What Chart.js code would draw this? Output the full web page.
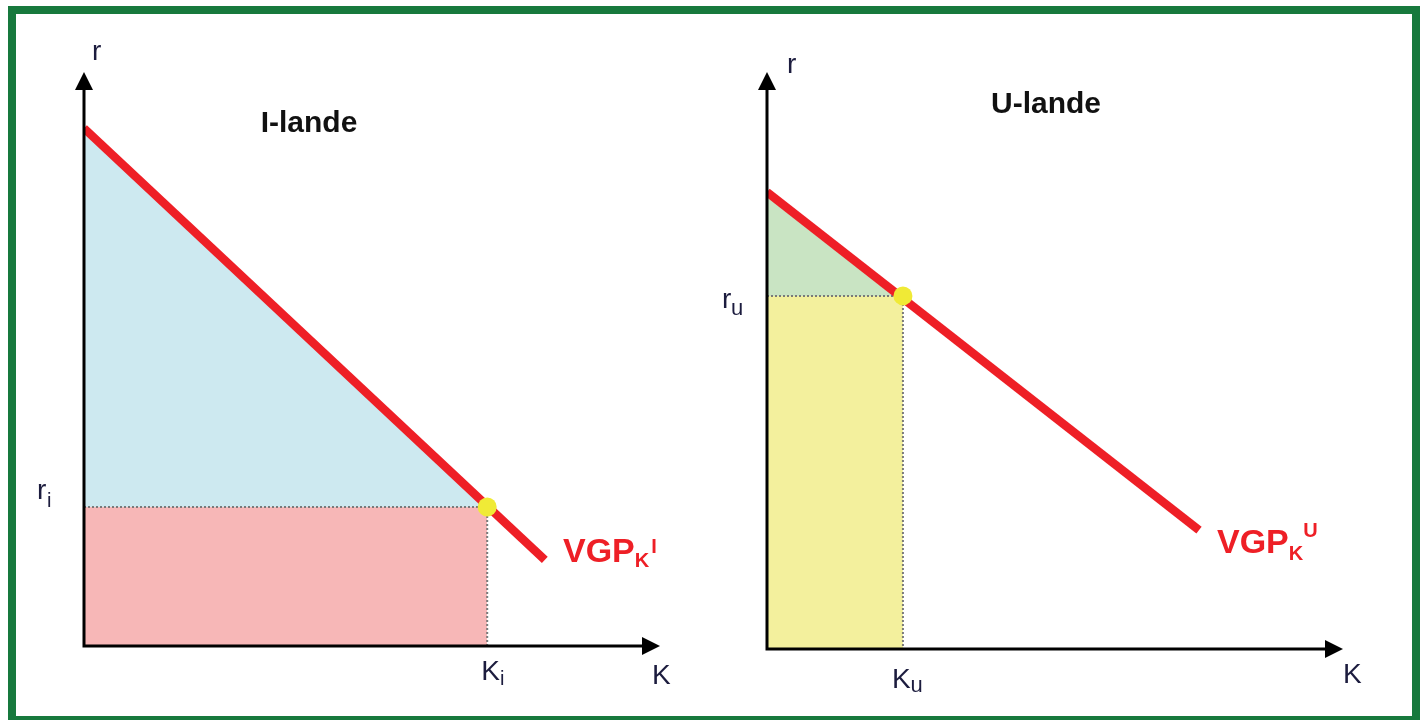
<!DOCTYPE html>
<html>
<head>
<meta charset="utf-8">
<script src="https://cdn.jsdelivr.net/npm/chart.js@4/dist/chart.umd.min.js"></script>
<style>
  html, body { margin: 0; padding: 0; background: #fff; }
  body { width: 1422px; height: 720px; position: relative; overflow: hidden; }
  canvas { position: absolute; left: 0; top: 0; }
  .frame {
    position: absolute; left: 8px; top: 6px; width: 1396px; height: 702px;
    border: 8px solid #17793d;
  }
</style>
</head>
<body>
<div class="frame"></div>
<canvas id="left" width="1422" height="720"></canvas>
<canvas id="right" width="1422" height="720"></canvas>
<script>
// ── Data (K on x, r on y, both 0..100) ─────────────────────
const axisRange = [0, 100];

// I-lande
const vgpI_K = [0, 80];
const vgpI_r = [90.2, 15.0];
const K_i = 70;
const r_i = 24.2;

// U-lande
const vgpU_K = [0, 75];
const vgpU_r = [79.2, 20.6];
const K_u = 23.6;
const r_u = 61.2;

// ── Colours ────────────────────────────────────────────────
const RED = '#ee1f26';
const DOT = '#f0ea36';
const INK = '#1c1c3e';
const FONT = '"Liberation Sans", Arial, sans-serif';

const pts = (xs, ys) => xs.map((x, i) => ({ x, y: ys[i] }));

function text(ctx, str, x, y, size, color, bold, align) {
  ctx.font = (bold ? 'bold ' : '') + size + 'px ' + FONT;
  ctx.fillStyle = color;
  ctx.textAlign = align || 'left';
  ctx.textBaseline = 'alphabetic';
  ctx.fillText(str, x, y);
  return ctx.measureText(str).width;
}

// axis arrows drawn from the scales
const axesPlugin = {
  id: 'axes',
  afterDatasetsDraw(chart) {
    const { ctx, chartArea, scales } = chart;
    const x0 = scales.x.getPixelForValue(0);
    const y0 = scales.y.getPixelForValue(0);
    const len = 18, half = 9;
    ctx.save();
    ctx.strokeStyle = '#000';
    ctx.fillStyle = '#000';
    ctx.lineWidth = 3;
    ctx.beginPath();
    ctx.moveTo(x0, y0 + 1.5);
    ctx.lineTo(x0, chartArea.top + len - 2);
    ctx.moveTo(x0 - 1.5, y0);
    ctx.lineTo(chartArea.right - len + 2, y0);
    ctx.stroke();
    ctx.beginPath();
    ctx.moveTo(x0, chartArea.top);
    ctx.lineTo(x0 - half, chartArea.top + len);
    ctx.lineTo(x0 + half, chartArea.top + len);
    ctx.closePath();
    ctx.fill();
    ctx.beginPath();
    ctx.moveTo(chartArea.right, y0);
    ctx.lineTo(chartArea.right - len, y0 - half);
    ctx.lineTo(chartArea.right - len, y0 + half);
    ctx.closePath();
    ctx.fill();
    ctx.restore();
  }
};

function makePanel(id, cfg) {
  const labelsPlugin = {
    id: 'labels',
    afterDraw(chart) {
      const { ctx, scales } = chart;
      const xp = scales.x.getPixelForValue(cfg.K);
      const yp = scales.y.getPixelForValue(cfg.r);
      ctx.save();
      cfg.drawLabels(ctx, xp, yp);
      ctx.restore();
    }
  };

  new Chart(document.getElementById(id), {
    type: 'line',
    data: {
      datasets: [
        { // equilibrium point
          data: [{ x: cfg.K, y: cfg.r }],
          showLine: false, pointRadius: 9.5, pointHoverRadius: 9.5,
          pointBackgroundColor: DOT, pointBorderWidth: 0
        },
        { // VGP line
          data: pts(cfg.lineK, cfg.lineR),
          borderColor: RED, borderWidth: 8.5, borderCapStyle: 'butt',
          pointRadius: 0, fill: false
        },
        { // dotted guides
          data: [{ x: 0, y: cfg.r }, { x: cfg.K, y: cfg.r }, { x: cfg.K, y: 0 }],
          borderColor: '#7a7a7a', borderWidth: 2, borderDash: [2, 2],
          pointRadius: 0, fill: false
        },
        { // triangle above r
          data: [{ x: 0, y: cfg.lineR[0] }, { x: cfg.K, y: cfg.r }],
          borderWidth: 0, pointRadius: 0,
          fill: { value: cfg.r }, backgroundColor: cfg.topFill
        },
        { // rectangle below r
          data: [{ x: 0, y: cfg.r }, { x: cfg.K, y: cfg.r }],
          borderWidth: 0, pointRadius: 0,
          fill: 'origin', backgroundColor: cfg.bottomFill
        }
      ]
    },
    options: {
      responsive: false,
      animation: false,
      devicePixelRatio: 1,
      layout: { padding: cfg.padding },
      plugins: { legend: { display: false }, tooltip: { enabled: false } },
      elements: { line: { tension: 0 } },
      scales: {
        x: { type: 'linear', min: axisRange[0], max: axisRange[1], display: false },
        y: { type: 'linear', min: axisRange[0], max: axisRange[1], display: false }
      }
    },
    plugins: [axesPlugin, labelsPlugin]
  });
}

// ── I-lande ────────────────────────────────────────────────
makePanel('left', {
  lineK: vgpI_K, lineR: vgpI_r, K: K_i, r: r_i,
  topFill: '#cde9f0', bottomFill: '#f7b7b7',
  padding: { left: 84, right: 762, top: 72, bottom: 74 },
  drawLabels(ctx, xp, yp) {
    text(ctx, 'I-lande', 309, 132, 30, '#111', true, 'center');
    text(ctx, 'r', 92, 60, 28, INK);
    text(ctx, 'r', 37, yp - 8, 28, INK);
    text(ctx, 'i', 47, yp, 20, INK);
    const w = text(ctx, 'K', xp - 6, 680, 28, INK);
    text(ctx, 'i', xp - 6 + w, 685, 20, INK);
    text(ctx, 'K', 652, 684, 28, INK);
    const v = text(ctx, 'VGP', 563, 562, 34, RED, true);
    const k = text(ctx, 'K', 563 + v, 567, 20, RED, true);
    text(ctx, 'I', 563 + v + k + 2, 553, 20, RED, true);
  }
});

// ── U-lande ────────────────────────────────────────────────
makePanel('right', {
  lineK: vgpU_K, lineR: vgpU_r, K: K_u, r: r_u,
  topFill: '#c9e4c3', bottomFill: '#f3f09d',
  padding: { left: 767, right: 79, top: 72, bottom: 71 },
  drawLabels(ctx, xp, yp) {
    text(ctx, 'U-lande', 1046, 113, 30, '#111', true, 'center');
    text(ctx, 'r', 787, 73, 28, INK);
    text(ctx, 'r', 722, yp + 12, 28, INK);
    text(ctx, 'u', 731, yp + 19, 22, INK);
    const w = text(ctx, 'K', xp - 11, 688, 28, INK);
    text(ctx, 'u', xp - 11 + w, 692, 22, INK);
    text(ctx, 'K', 1343, 683, 28, INK);
    const v = text(ctx, 'VGP', 1217, 553, 34, RED, true);
    const k = text(ctx, 'K', 1217 + v, 560, 20, RED, true);
    text(ctx, 'U', 1217 + v + k, 537, 20, RED, true);
  }
});
</script>
</body>
</html>
